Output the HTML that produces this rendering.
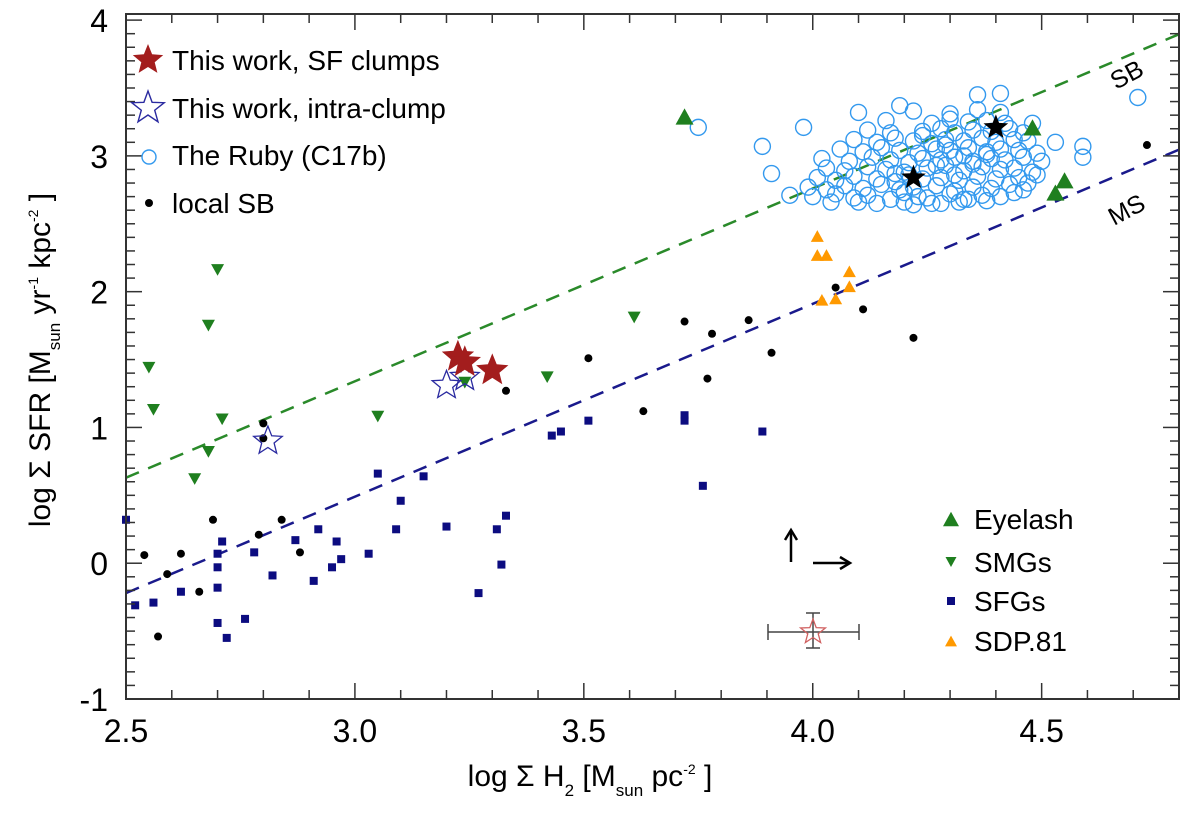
<!DOCTYPE html>
<html><head><meta charset="utf-8"><style>
html,body{margin:0;padding:0;background:#fff;}
svg{display:block;font-family:"Liberation Sans",Arial,sans-serif;}
</style></head><body>
<svg id="chart" width="1200" height="819" viewBox="0 0 1200 819" xmlns="http://www.w3.org/2000/svg">
<g id="grid"></g>
<g id="lines"></g>
<g id="marks"></g>
<g id="axes"></g>
<g id="labels">
  <text x="590" y="786" font-size="30" text-anchor="middle">log Σ H<tspan font-size="17" dy="10">2</tspan><tspan dy="-10"> [M</tspan><tspan font-size="17" dy="10">sun</tspan><tspan dy="-10">  pc</tspan><tspan font-size="14" dy="-12">-2</tspan><tspan dy="12"> ]</tspan></text>
  <text transform="translate(50,360) rotate(-90)" font-size="30" text-anchor="middle">log Σ SFR [M<tspan font-size="17" dy="10">sun</tspan><tspan dy="-10">  yr</tspan><tspan font-size="14" dy="-12">-1</tspan><tspan dy="12"> kpc</tspan><tspan font-size="14" dy="-12">-2</tspan><tspan dy="12"> ]</tspan></text>
  <text transform="translate(1116,90) rotate(-28)" font-size="25">SB</text>
  <text transform="translate(1114,226) rotate(-28)" font-size="25">MS</text>
</g>
<g id="legend"></g>
</svg>
<script>
// ---- data ----
const xDomain = [2.5, 4.8];
const yDomain = [-1, 4.045];
const xTickLabels = ["2.5","3.0","3.5","4.0","4.5"];
const yTickLabels = ["-1","0","1","2","3","4"];
const sbLine = [1.42, -2.92];
const msLine = [1.42, -3.77];
const clumpX = [3.225, 3.24, 3.30];
const clumpY = [1.52, 1.48, 1.42];
const intraX = [3.20, 3.24, 2.81];
const intraY = [1.31, 1.37, 0.90];
const rubyStarX = [4.22, 4.40];
const rubyStarY = [2.84, 3.21];
const localSBX = [2.80,2.80,3.33,3.51,3.63,3.72,3.78,3.77,3.86,3.91,4.05,4.11,4.22,4.73,2.54,2.57,2.59,2.62,2.66,2.69,2.79,2.84,2.88];
const localSBY = [1.03,0.92,1.27,1.51,1.12,1.78,1.69,1.36,1.79,1.55,2.03,1.87,1.66,3.08,0.06,-0.54,-0.08,0.07,-0.21,0.32,0.21,0.32,0.08];
const sfgX = [2.50,2.52,2.56,2.62,2.70,2.70,2.70,2.71,2.70,2.72,2.76,2.78,2.82,2.87,2.91,2.92,2.95,2.96,2.97,3.03,3.05,3.09,3.10,3.15,3.20,3.27,3.31,3.32,3.33,3.43,3.45,3.51,3.72,3.72,3.89,3.76];
const sfgY = [0.32,-0.31,-0.29,-0.21,0.07,-0.03,-0.18,0.16,-0.44,-0.55,-0.41,0.08,-0.09,0.17,-0.13,0.25,-0.03,0.16,0.03,0.07,0.66,0.25,0.46,0.64,0.27,-0.22,0.25,-0.01,0.35,0.94,0.97,1.05,1.09,1.05,0.97,0.57];
const smgX = [2.55,2.56,2.70,2.68,2.71,2.68,2.65,3.05,3.24,3.42,3.61];
const smgY = [1.44,1.13,2.16,1.75,1.06,0.82,0.62,1.08,1.33,1.37,1.81];
const eyelashX = [3.72,4.48,4.55,4.53];
const eyelashY = [3.29,3.21,2.82,2.73];
const sdpX = [4.01,4.01,4.03,4.08,4.08,4.05,4.02];
const sdpY = [2.41,2.27,2.27,2.15,2.04,1.95,1.94];
const rubyX = [3.89,3.91,3.95,3.98,4.10,4.19,4.36,4.41,4.53,4.59,4.59,4.71,3.75,4.47,4.48,
 4.00,4.05,4.09,4.12,4.17,4.20,4.23,4.25,4.30,4.33,4.37,4.41,4.44,
 3.99,4.03,4.07,4.11,4.15,4.19,4.22,4.27,4.31,4.35,4.39,4.43,4.46,
 4.01,4.05,4.09,4.14,4.18,4.21,4.24,4.28,4.32,4.36,4.40,4.45,4.49,
 4.03,4.07,4.12,4.16,4.20,4.25,4.29,4.33,4.37,4.41,4.44,4.48,
 4.02,4.08,4.13,4.17,4.21,4.24,4.28,4.31,4.35,4.39,4.42,4.46,4.50,
 4.06,4.11,4.15,4.19,4.23,4.27,4.30,4.34,4.38,4.41,4.45,4.49,
 4.09,4.14,4.18,4.22,4.26,4.29,4.33,4.37,4.40,4.44,4.47,
 4.12,4.17,4.24,4.28,4.31,4.35,4.39,4.43,4.46,
 4.16,4.26,4.30,4.34,4.38,4.42,
 4.22,4.30,4.36,4.41,
 4.27,4.33,4.18,4.29,4.35,4.24,4.31,4.38,
 4.04,4.14,4.20,4.26,4.32,4.38,4.22,4.10,4.28,4.34];
const rubyY = [3.07,2.87,2.71,3.21,3.32,3.37,3.45,3.46,3.10,3.07,2.99,3.43,3.21,2.80,3.24,
 2.70,2.72,2.69,2.71,2.68,2.73,2.70,2.69,2.72,2.68,2.71,2.70,2.73,
 2.77,2.75,2.78,2.76,2.79,2.75,2.77,2.78,2.74,2.77,2.76,2.79,2.75,
 2.84,2.82,2.85,2.83,2.81,2.86,2.83,2.84,2.82,2.85,2.83,2.84,2.86,
 2.91,2.89,2.92,2.90,2.88,2.91,2.93,2.89,2.92,2.90,2.91,2.88,
 2.98,2.96,2.99,2.97,2.95,2.98,2.97,2.99,2.96,2.98,2.97,2.99,2.96,
 3.05,3.03,3.06,3.04,3.02,3.05,3.04,3.06,3.03,3.05,3.04,3.02,
 3.12,3.10,3.13,3.11,3.09,3.12,3.11,3.13,3.10,3.12,3.11,
 3.19,3.17,3.18,3.20,3.17,3.19,3.18,3.20,3.17,
 3.26,3.24,3.27,3.25,3.26,3.24,
 3.33,3.31,3.34,3.32,
 2.93,3.00,2.87,3.08,2.94,3.15,2.86,3.01,
 2.66,2.65,2.66,2.65,2.66,2.67,2.64,2.66,2.65,2.68];

// ---- geometry ----
const L=126,R=1179,T=14,B=699;
const sx=v=>L+(v-xDomain[0])/(xDomain[1]-xDomain[0])*(R-L);
const sy=v=>B-(v-yDomain[0])/(yDomain[1]-yDomain[0])*(B-T);
const NS="http://www.w3.org/2000/svg";
function mk(tag,attrs,parent){const e=document.createElementNS(NS,tag);for(const k in attrs)e.setAttribute(k,attrs[k]);parent.appendChild(e);return e;}
function starPts(cx,cy,ro,ri){let p=[];for(let i=0;i<10;i++){const a=-Math.PI/2+i*Math.PI/5;const r=i%2?ri:ro;p.push((cx+r*Math.cos(a)).toFixed(1)+","+(cy+r*Math.sin(a)).toFixed(1));}return p.join(" ");}
function triPts(cx,cy,s,down){const h=s*0.9;return down?`${cx-s/2},${cy-h/2} ${cx+s/2},${cy-h/2} ${cx},${cy+h/2}`:`${cx-s/2},${cy+h/2} ${cx+s/2},${cy+h/2} ${cx},${cy-h/2}`;}

const lines=document.getElementById('lines');
const marks=document.getElementById('marks');
const axes=document.getElementById('axes');
const legend=document.getElementById('legend');

[[sbLine,'#2a8a2a','sb-relation-line'],[msLine,'#1a1a8c','ms-relation-line']].forEach(([c,col,name])=>{
  const x0=xDomain[0],x1=xDomain[1];
  const ln=mk('line',{x1:sx(x0),y1:sy(c[0]*x0+c[1]),x2:sx(x1),y2:sy(c[0]*x1+c[1]),stroke:col,'stroke-width':2.5,'stroke-dasharray':'14,10'},lines);
  
  
});

rubyX.forEach((x,i)=>{
  const c=mk('circle',{cx:sx(x),cy:sy(rubyY[i]),r:8,fill:'none',stroke:'#3399ee','stroke-width':1.4},marks);
  
  
});
sfgX.forEach((x,i)=>{
  const s=mk('rect',{x:sx(x)-4,y:sy(sfgY[i])-4,width:8,height:8,fill:'#0c0c80'},marks);
  
  
});
localSBX.forEach((x,i)=>{
  const c=mk('circle',{cx:sx(x),cy:sy(localSBY[i]),r:4,fill:'#000'},marks);
  
  
});
smgX.forEach((x,i)=>{
  const p=mk('polygon',{points:triPts(sx(x),sy(smgY[i]),13,true),fill:'#1f7f1f'},marks);
  
  
});
eyelashX.forEach((x,i)=>{
  const p=mk('polygon',{points:triPts(sx(x),sy(eyelashY[i]),18,false),fill:'#1f7f1f'},marks);
  
  
});
sdpX.forEach((x,i)=>{
  const p=mk('polygon',{points:triPts(sx(x),sy(sdpY[i]),13,false),fill:'#ff9900'},marks);
  
  
});
intraX.forEach((x,i)=>{
  const p=mk('polygon',{points:starPts(sx(x),sy(intraY[i]),15,6.5),fill:'none',stroke:'#2a2aa0','stroke-width':1.3},marks);
  
  
});
clumpX.forEach((x,i)=>{
  const p=mk('polygon',{points:starPts(sx(x),sy(clumpY[i]),17,7.5),fill:'#a31d1d'},marks);
  
  
});
rubyStarX.forEach((x,i)=>{
  const p=mk('polygon',{points:starPts(sx(x),sy(rubyStarY[i]),13,5.5),fill:'#000'},marks);
  
  
});

const eb=mk('g',{stroke:'#444','stroke-width':1.5},marks);


mk('line',{x1:768,y1:632,x2:859,y2:632},eb);
mk('line',{x1:768,y1:624,x2:768,y2:640},eb);
mk('line',{x1:859,y1:624,x2:859,y2:640},eb);
mk('line',{x1:813,y1:613,x2:813,y2:648},eb);
mk('line',{x1:806,y1:613,x2:820,y2:613},eb);
mk('line',{x1:806,y1:648,x2:820,y2:648},eb);
mk('polygon',{points:starPts(813,632,13,5.5),fill:'none',stroke:'#d06060','stroke-width':1.3},eb);
const ar=mk('g',{stroke:'#000','stroke-width':2.5,fill:'none'},marks);


mk('line',{x1:791,y1:562,x2:791,y2:531},ar);
mk('polyline',{points:'785,540 791,530 797,540'},ar);
mk('line',{x1:813,y1:563,x2:849,y2:563},ar);
mk('polyline',{points:'840,557 850,563 840,569'},ar);

mk('rect',{x:L,y:T,width:R-L,height:B-T,fill:'none',stroke:'#333','stroke-width':2},axes);
for(let k=0;k<=23;k++){
  const v=xDomain[0]+k*0.1, x=sx(v), len=(k%5===0)?16:9;
  mk('line',{x1:x,y1:B,x2:x,y2:B-len,stroke:'#333','stroke-width':1.5},axes);
  mk('line',{x1:x,y1:T,x2:x,y2:T+len,stroke:'#333','stroke-width':1.5},axes);
}
for(let k=0;k<=50;k++){
  const v=yDomain[0]+k*0.1, y=sy(v), len=(k%10===0)?16:9;
  if(y<T-0.5)continue;
  mk('line',{x1:L,y1:y,x2:L+len,y2:y,stroke:'#333','stroke-width':1.5},axes);
  mk('line',{x1:R,y1:y,x2:R-len,y2:y,stroke:'#333','stroke-width':1.5},axes);
}
xTickLabels.forEach(t=>{
  const e=mk('text',{x:sx(parseFloat(t)),y:742,'font-size':32,'text-anchor':'middle'},axes);
  e.textContent=t;
  
  
});
yTickLabels.forEach(t=>{
  const e=mk('text',{x:108,y:sy(parseFloat(t))+12,'font-size':32,'text-anchor':'end'},axes);
  e.textContent=t;
  
  
});

const leg1=[['star-fill','This work, SF clumps',60],['star-open','This work, intra-clump',108],['circle','The Ruby (C17b)',155],['dot','local SB',203]];
leg1.forEach(([m,label,y])=>{
  const g=mk('g',{},legend);
  
  
  if(m==='star-fill')mk('polygon',{points:starPts(148,y,16,7),fill:'#a31d1d'},g);
  if(m==='star-open')mk('polygon',{points:starPts(148,y,17,7),fill:'none',stroke:'#2a2aa0','stroke-width':1.4},g);
  if(m==='circle')mk('circle',{cx:149,cy:y+2,r:7,fill:'none',stroke:'#3399ee','stroke-width':1.4},g);
  if(m==='dot')mk('circle',{cx:149,cy:y,r:4,fill:'#000'},g);
  const t=mk('text',{x:172,y:y+10,'font-size':28},g);t.textContent=label;
});
const leg2=[['#1f7f1f',false,'Eyelash',519,16],['#1f7f1f',true,'SMGs',562,11],['#0c0c80',null,'SFGs',601,0],['#ff9900',false,'SDP.81',641,12]];
leg2.forEach(([col,down,label,y,s])=>{
  const g=mk('g',{},legend);
  
  
  if(down===null)mk('rect',{x:947,y:y-4,width:8,height:8,fill:col},g);
  else mk('polygon',{points:triPts(951,y,s,down),fill:col},g);
  const t=mk('text',{x:974,y:y+10,'font-size':28},g);t.textContent=label;
});
</script>
</body></html>
